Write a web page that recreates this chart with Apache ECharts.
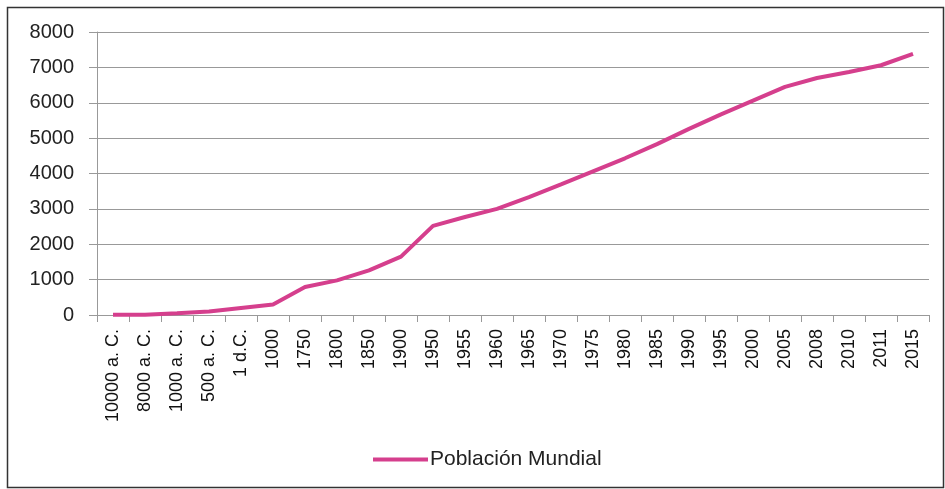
<!DOCTYPE html>
<html>
<head>
<meta charset="utf-8">
<script src="https://cdn.jsdelivr.net/npm/echarts@6/dist/echarts.min.js"></script>
<style>
  html, body { margin: 0; padding: 0; background: #fff; }
  #main { width: 945px; height: 489px; }
</style>
</head>
<body>
<div id="main"></div>
<script>
// periodos
var categorias = ['10000 a. C.', '8000 a. C.', '1000 a. C.', '500 a. C.', '1 d.C.', '1000',
    '1750', '1800', '1850', '1900', '1950', '1955', '1960', '1965', '1970', '1975', '1980',
    '1985', '1990', '1995', '2000', '2005', '2008', '2010', '2011', '2015'];
// millones de personas
var poblacion = [5, 5, 50, 100, 200, 300, 790, 980, 1260, 1650, 2520, 2770, 3000, 3330,
    3690, 4060, 4430, 4830, 5260, 5670, 6060, 6450, 6700, 6870, 7060, 7380];
var ticksY = [0, 1000, 2000, 3000, 4000, 5000, 6000, 7000, 8000];

var myChart = echarts.init(document.getElementById('main'));
var option = {
    animation: false,
    textStyle: { fontFamily: 'Liberation Sans, Arial, sans-serif' },
    graphic: [{
        type: 'rect',
        shape: { x: 7.5, y: 7.5, width: 936, height: 480 },
        style: { fill: 'none', stroke: '#333', lineWidth: 1.5 }
    }],
    legend: {
        left: 368,
        top: 444,
        itemWidth: 55,
        itemHeight: 4,
        itemGap: 4,
        data: [{ name: 'Población Mundial', icon: 'rect' }],
        textStyle: { fontSize: 21, color: '#222', padding: [0, 0, 0, -3] }
    },
    grid: { left: 97, right: 16, top: 32, bottom: 174 },
    xAxis: {
        type: 'category',
        boundaryGap: true,
        data: categorias,
        axisLine: { lineStyle: { color: '#999', width: 1 } },
        axisTick: { show: true, length: 7, lineStyle: { color: '#999' } },
        axisLabel: { rotate: 90, fontSize: 18, color: '#111', margin: 14, interval: 0 }
    },
    yAxis: {
        type: 'value',
        min: ticksY[0],
        max: ticksY[ticksY.length - 1],
        interval: 1000,
        axisLine: { show: true, lineStyle: { color: '#999' } },
        axisTick: { show: true, length: 8, lineStyle: { color: '#999' } },
        splitLine: { lineStyle: { color: '#999', width: 1 } },
        axisLabel: {
            fontSize: 20, color: '#222', margin: 23,
            formatter: function (v) { return String(v); }
        }
    },
    series: [{
        name: 'Población Mundial',
        type: 'line',
        symbol: 'none',
        data: poblacion,
        lineStyle: { color: '#d53f8d', width: 4 },
        itemStyle: { color: '#d53f8d' }
    }]
};
myChart.setOption(option);
window.onresize = function () { myChart.resize(); };
</script>
</body>
</html>
